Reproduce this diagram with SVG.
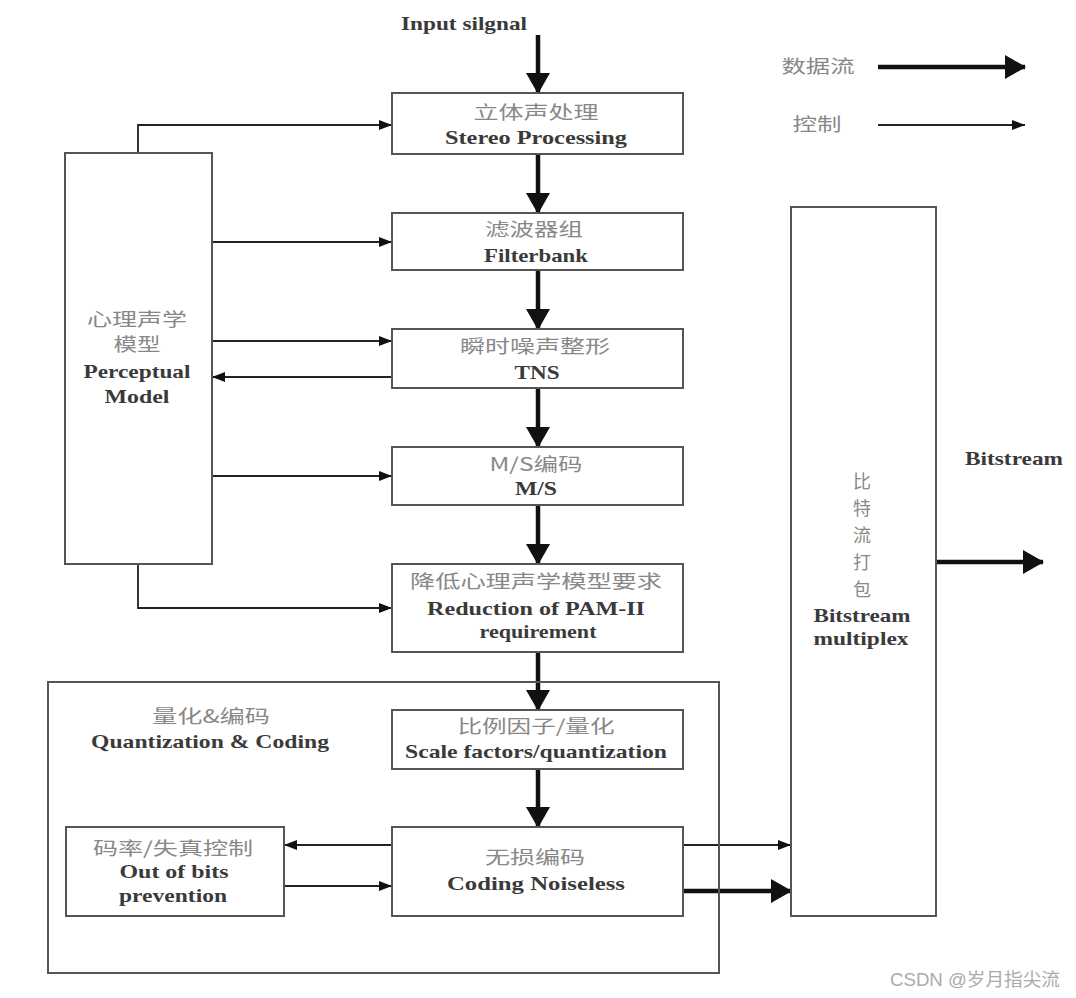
<svg xmlns="http://www.w3.org/2000/svg" width="1076" height="998" viewBox="0 0 1076 998">
<style>
.box{fill:#fff;stroke:#555;stroke-width:2}
.en{font-family:"Liberation Serif","Times New Roman",serif;font-size:19px;font-weight:bold;fill:#3a3a3a;text-anchor:middle}
.zh{font-family:"Noto Sans CJK SC",sans-serif;font-size:18px;fill:#888;text-anchor:middle}
.data{fill:none;stroke:#111;stroke-width:4.5}
.ctl{fill:none;stroke:#222;stroke-width:1.8}
.wm{font-family:"Liberation Sans","Noto Sans CJK SC",sans-serif;font-size:18px;fill:#aaa}
</style>
<defs>
<marker id="big" markerUnits="userSpaceOnUse" markerWidth="22" markerHeight="24" refX="20" refY="12" orient="auto">
<path d="M0,0 L21,12 L0,24 z" fill="#111"/>
</marker>
<marker id="small" markerUnits="userSpaceOnUse" markerWidth="14" markerHeight="10" refX="13" refY="5" orient="auto">
<path d="M0,0 L13,5 L0,10 z" fill="#111"/>
</marker>
</defs>
<rect width="1076" height="998" fill="#fff"/>

<g id="connectors">
<path class="data" marker-end="url(#big)" d="M538,35 V93"/>
<path class="data" marker-end="url(#big)" d="M538,154 V213"/>
<path class="data" marker-end="url(#big)" d="M538,270 V329"/>
<path class="data" marker-end="url(#big)" d="M538,388 V447"/>
<path class="data" marker-end="url(#big)" d="M538,505 V564"/>
<path class="data" marker-end="url(#big)" d="M538,652 V710"/>
<path class="data" marker-end="url(#big)" d="M538,769 V827"/>
<path class="data" marker-end="url(#big)" d="M683,891 H791"/>
<path class="data" marker-end="url(#big)" d="M936,562 H1043"/>
<path class="ctl" marker-end="url(#small)" d="M138,153 V125 H392"/>
<path class="ctl" marker-end="url(#small)" d="M212,242 H392"/>
<path class="ctl" marker-end="url(#small)" d="M212,341 H392"/>
<path class="ctl" marker-end="url(#small)" d="M392,377 H212"/>
<path class="ctl" marker-end="url(#small)" d="M212,476 H392"/>
<path class="ctl" marker-end="url(#small)" d="M138,564 V608 H392"/>
<path class="ctl" marker-end="url(#small)" d="M392,845 H284"/>
<path class="ctl" marker-end="url(#small)" d="M284,886 H392"/>
<path class="ctl" marker-end="url(#small)" d="M683,845 H791"/>
</g>

<g id="quantization-group">
<rect x="48" y="682" width="671" height="291" fill="none" stroke="#555" stroke-width="2"/>
<text class="zh" x="211" y="723" textLength="118" lengthAdjust="spacingAndGlyphs">量化&amp;编码</text>
<text class="en" x="210" y="748" textLength="238" lengthAdjust="spacingAndGlyphs">Quantization &amp; Coding</text>
</g>

<g id="input-label">
<text class="en" x="464" y="30" textLength="126" lengthAdjust="spacingAndGlyphs">Input silgnal</text>
</g>

<g id="stereo">
<rect class="box" x="392" y="93" width="291" height="61"/>
<text class="zh" x="536" y="119" textLength="125" lengthAdjust="spacingAndGlyphs">立体声处理</text>
<text class="en" x="536" y="144" textLength="182" lengthAdjust="spacingAndGlyphs">Stereo Processing</text>
</g>

<g id="filterbank">
<rect class="box" x="392" y="213" width="291" height="57"/>
<text class="zh" x="534" y="236" textLength="98" lengthAdjust="spacingAndGlyphs">滤波器组</text>
<text class="en" x="536" y="262" textLength="104" lengthAdjust="spacingAndGlyphs">Filterbank</text>
</g>

<g id="tns">
<rect class="box" x="392" y="329" width="291" height="59"/>
<text class="zh" x="535" y="353" textLength="150" lengthAdjust="spacingAndGlyphs">瞬时噪声整形</text>
<text class="en" x="537" y="379" textLength="45" lengthAdjust="spacingAndGlyphs">TNS</text>
</g>

<g id="ms">
<rect class="box" x="392" y="447" width="291" height="58"/>
<text class="zh" x="536" y="471" textLength="93" lengthAdjust="spacingAndGlyphs">M/S编码</text>
<text class="en" x="536" y="495" textLength="42" lengthAdjust="spacingAndGlyphs">M/S</text>
</g>

<g id="reduction">
<rect class="box" x="392" y="564" width="291" height="88"/>
<text class="zh" x="536" y="588" textLength="252" lengthAdjust="spacingAndGlyphs">降低心理声学模型要求</text>
<text class="en" x="536" y="615" textLength="218" lengthAdjust="spacingAndGlyphs">Reduction of PAM-II</text>
<text class="en" x="538" y="638" textLength="117" lengthAdjust="spacingAndGlyphs">requirement</text>
</g>

<g id="scale-factors">
<rect class="box" x="392" y="710" width="291" height="59"/>
<text class="zh" x="536" y="733" textLength="157" lengthAdjust="spacingAndGlyphs">比例因子/量化</text>
<text class="en" x="536" y="758" textLength="262" lengthAdjust="spacingAndGlyphs">Scale factors/quantization</text>
</g>

<g id="noiseless">
<rect class="box" x="392" y="827" width="291" height="89"/>
<text class="zh" x="535" y="864" textLength="100" lengthAdjust="spacingAndGlyphs">无损编码</text>
<text class="en" x="536" y="890" textLength="178" lengthAdjust="spacingAndGlyphs">Coding Noiseless</text>
</g>

<g id="out-of-bits">
<rect class="box" x="66" y="827" width="218" height="89"/>
<text class="zh" x="173" y="855" textLength="160" lengthAdjust="spacingAndGlyphs">码率/失真控制</text>
<text class="en" x="174" y="878" textLength="109" lengthAdjust="spacingAndGlyphs">Out of bits</text>
<text class="en" x="173" y="902" textLength="108" lengthAdjust="spacingAndGlyphs">prevention</text>
</g>

<g id="perceptual-model">
<rect class="box" x="65" y="153" width="147" height="411"/>
<text class="zh" x="137" y="326" textLength="100" lengthAdjust="spacingAndGlyphs">心理声学</text>
<text class="zh" x="137" y="351" textLength="47" lengthAdjust="spacingAndGlyphs">模型</text>
<text class="en" x="137" y="378" textLength="107" lengthAdjust="spacingAndGlyphs">Perceptual</text>
<text class="en" x="137" y="403" textLength="65" lengthAdjust="spacingAndGlyphs">Model</text>
</g>

<g id="bitstream-multiplex">
<rect class="box" x="791" y="207" width="145" height="709"/>
<text class="zh" x="862" y="488">比</text>
<text class="zh" x="862" y="515">特</text>
<text class="zh" x="862" y="542">流</text>
<text class="zh" x="862" y="569">打</text>
<text class="zh" x="862" y="596">包</text>
<text class="en" x="862" y="622" textLength="97" lengthAdjust="spacingAndGlyphs">Bitstream</text>
<text class="en" x="861" y="645" textLength="95" lengthAdjust="spacingAndGlyphs">multiplex</text>
</g>

<g id="output-label">
<text class="en" x="1014" y="465" textLength="98" lengthAdjust="spacingAndGlyphs">Bitstream</text>
</g>

<g id="legend">
<text class="zh" x="818" y="73" textLength="73" lengthAdjust="spacingAndGlyphs">数据流</text>
<path class="data" marker-end="url(#big)" d="M878,67 H1025"/>
<text class="zh" x="817" y="131" textLength="49" lengthAdjust="spacingAndGlyphs">控制</text>
<path class="ctl" marker-end="url(#small)" d="M878,125 H1025"/>
</g>

<text class="wm" x="890" y="986" textLength="170" lengthAdjust="spacingAndGlyphs">CSDN @岁月指尖流</text>
</svg>
